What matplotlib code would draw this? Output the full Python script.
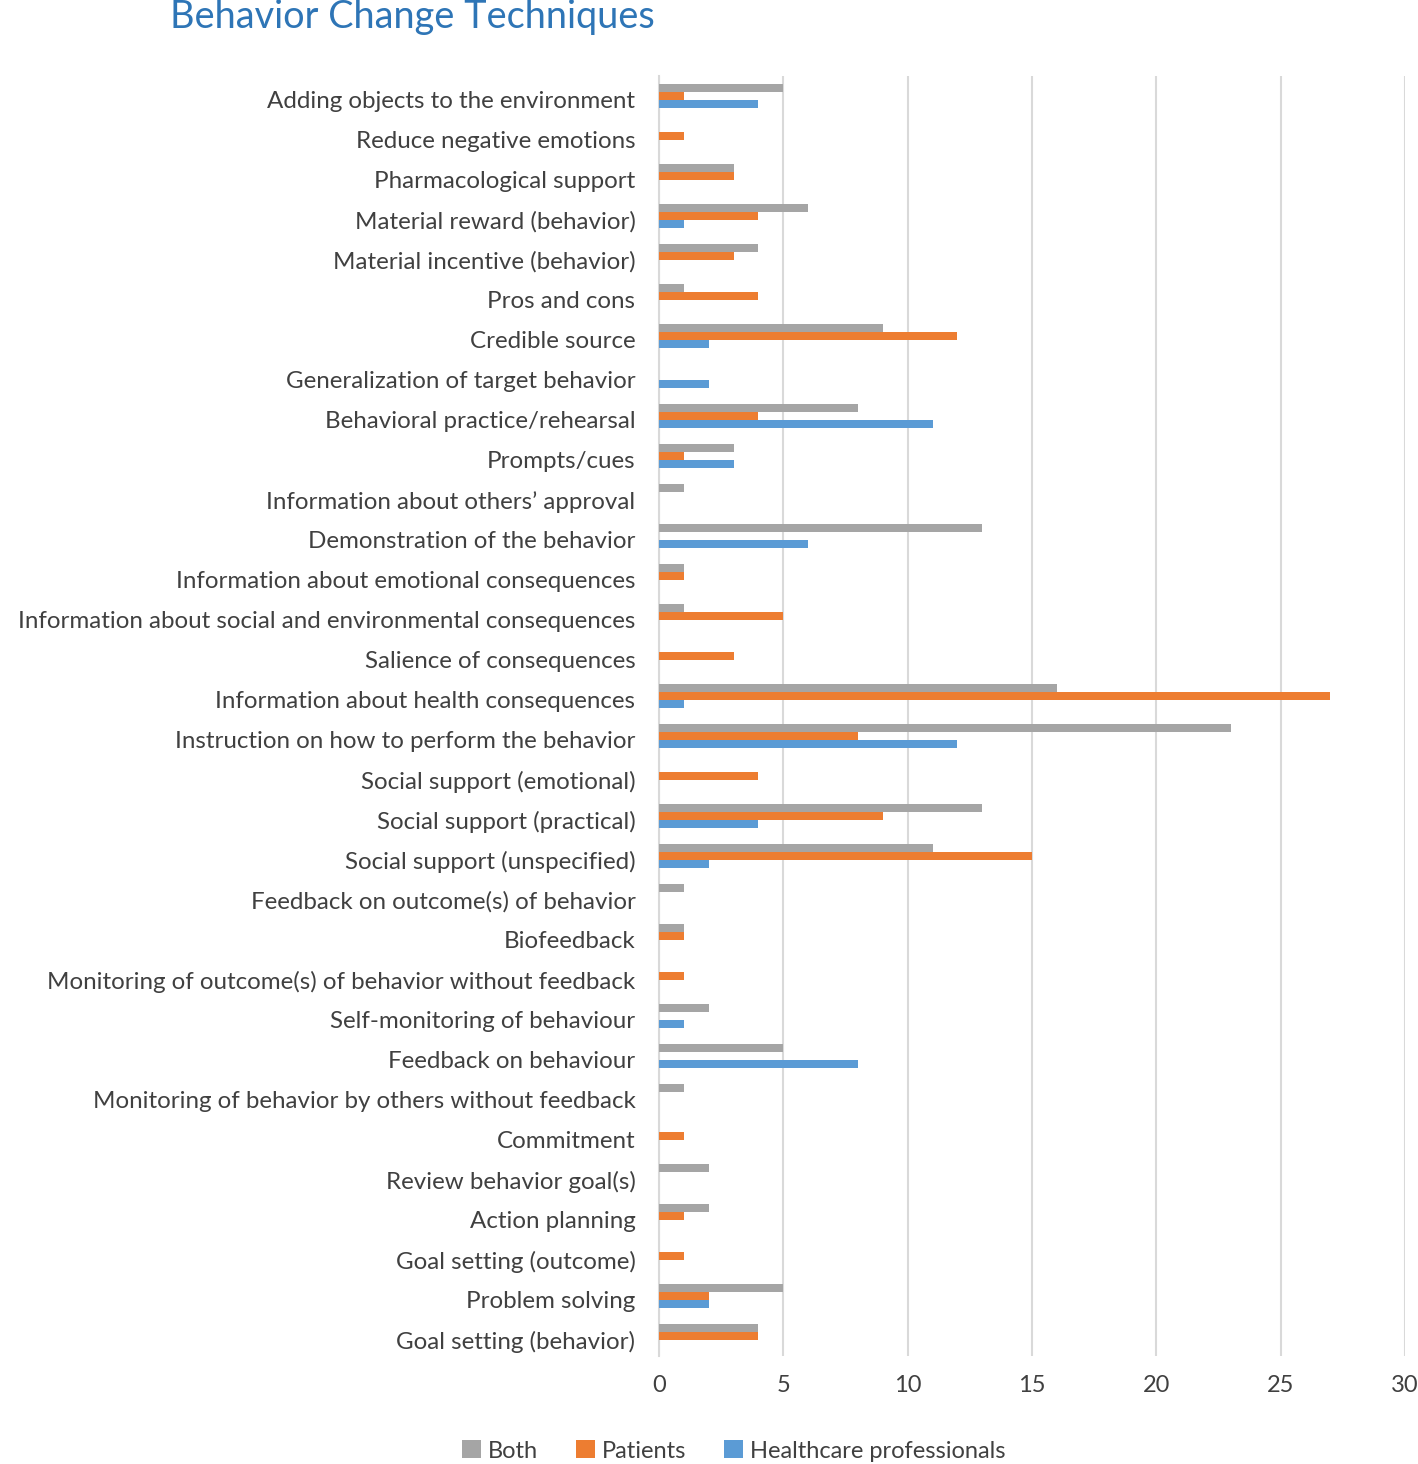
import matplotlib
matplotlib.use("Agg")
import matplotlib.pyplot as plt
import matplotlib.transforms as mtransforms
import numpy as np

categories = [
    "Adding objects to the environment",
    "Reduce negative emotions",
    "Pharmacological support",
    "Material reward (behavior)",
    "Material incentive (behavior)",
    "Pros and cons",
    "Credible source",
    "Generalization of target behavior",
    "Behavioral practice/rehearsal",
    "Prompts/cues",
    "Information about others\u2019 approval",
    "Demonstration of the behavior",
    "Information about emotional consequences",
    "Information about social and environmental consequences",
    "Salience of consequences",
    "Information about health consequences",
    "Instruction on how to perform the behavior",
    "Social support (emotional)",
    "Social support (practical)",
    "Social support (unspecified)",
    "Feedback on outcome(s) of behavior",
    "Biofeedback",
    "Monitoring of outcome(s) of behavior without feedback",
    "Self-monitoring of behaviour",
    "Feedback on behaviour",
    "Monitoring of behavior by others without feedback",
    "Commitment",
    "Review behavior goal(s)",
    "Action planning",
    "Goal setting (outcome)",
    "Problem solving",
    "Goal setting (behavior)",
]
both = [5, 0, 3, 6, 4, 1, 9, 0, 8, 3, 1, 13, 1, 1, 0, 16, 23, 0, 13, 11, 1, 1, 0, 2, 5, 1, 0, 2, 2, 0, 5, 4]
patients = [1, 1, 3, 4, 3, 4, 12, 0, 4, 1, 0, 0, 1, 5, 3, 27, 8, 4, 9, 15, 0, 1, 1, 0, 0, 0, 1, 0, 1, 1, 2, 4]
hcp = [4, 0, 0, 1, 0, 0, 2, 2, 11, 3, 0, 6, 0, 0, 0, 1, 12, 0, 4, 2, 0, 0, 0, 1, 8, 0, 0, 0, 0, 0, 2, 0]
series_names = ["Both", "Patients", "Healthcare professionals"]
colors = ["#A5A5A5", "#ED7D31", "#5B9BD5"]
xticks = [0, 5, 10, 15, 20, 25, 30]

plt.rcParams['font.family'] = ['Lato', 'DejaVu Sans']

fig = plt.figure(figsize=(14.18, 14.64), dpi=100)
ax = fig.add_axes([659/1418, 1 - 1356/1464, (1405-659)/1418, (1356-76)/1464])

y = np.arange(len(categories))
h = 0.2
for i, (vals, c, name) in enumerate(zip([both, patients, hcp], colors, series_names)):
    ax.barh(y + (i - 1) * h, vals, height=h, color=c, label=name, zorder=3)

ax.set_ylim(len(categories) - 0.5, -0.5)
ax.set_xlim(0, 30)
ax.set_xticks(xticks)
ax.set_yticks(y)
ax.set_yticklabels(categories)
ax.tick_params(axis='y', length=0, labelsize=17.4, colors="#404040", pad=17)
ax.tick_params(axis='x', length=0, labelsize=17, colors="#404040", pad=14)
offset = mtransforms.ScaledTranslation(0, -4/100, fig.dpi_scale_trans)
for lbl in ax.get_yticklabels():
    lbl.set_transform(lbl.get_transform() + offset)
ax.grid(axis='x', color="#D9D9D9", linewidth=1.5, zorder=0)
for s in ["top", "right", "bottom"]:
    ax.spines[s].set_visible(False)
ax.spines["left"].set_color("#D9D9D9")
ax.spines["left"].set_linewidth(1.5)

fig.text(170/1418, 1 - 17/1464, "Behavior Change Techniques", fontsize=27.3,
         color="#2E75B6", ha="left", va="center")

handles, labels = ax.get_legend_handles_labels()
leg = fig.legend(handles, labels, loc="center", bbox_to_anchor=(734/1418, 1 - 1451/1464),
                 ncol=3, frameon=False, fontsize=17, handlelength=0.8, handleheight=0.8,
                 handletextpad=0.3, columnspacing=1.6)
for t in leg.get_texts():
    t.set_color("#404040")

fig.savefig("out.png", dpi=100)
